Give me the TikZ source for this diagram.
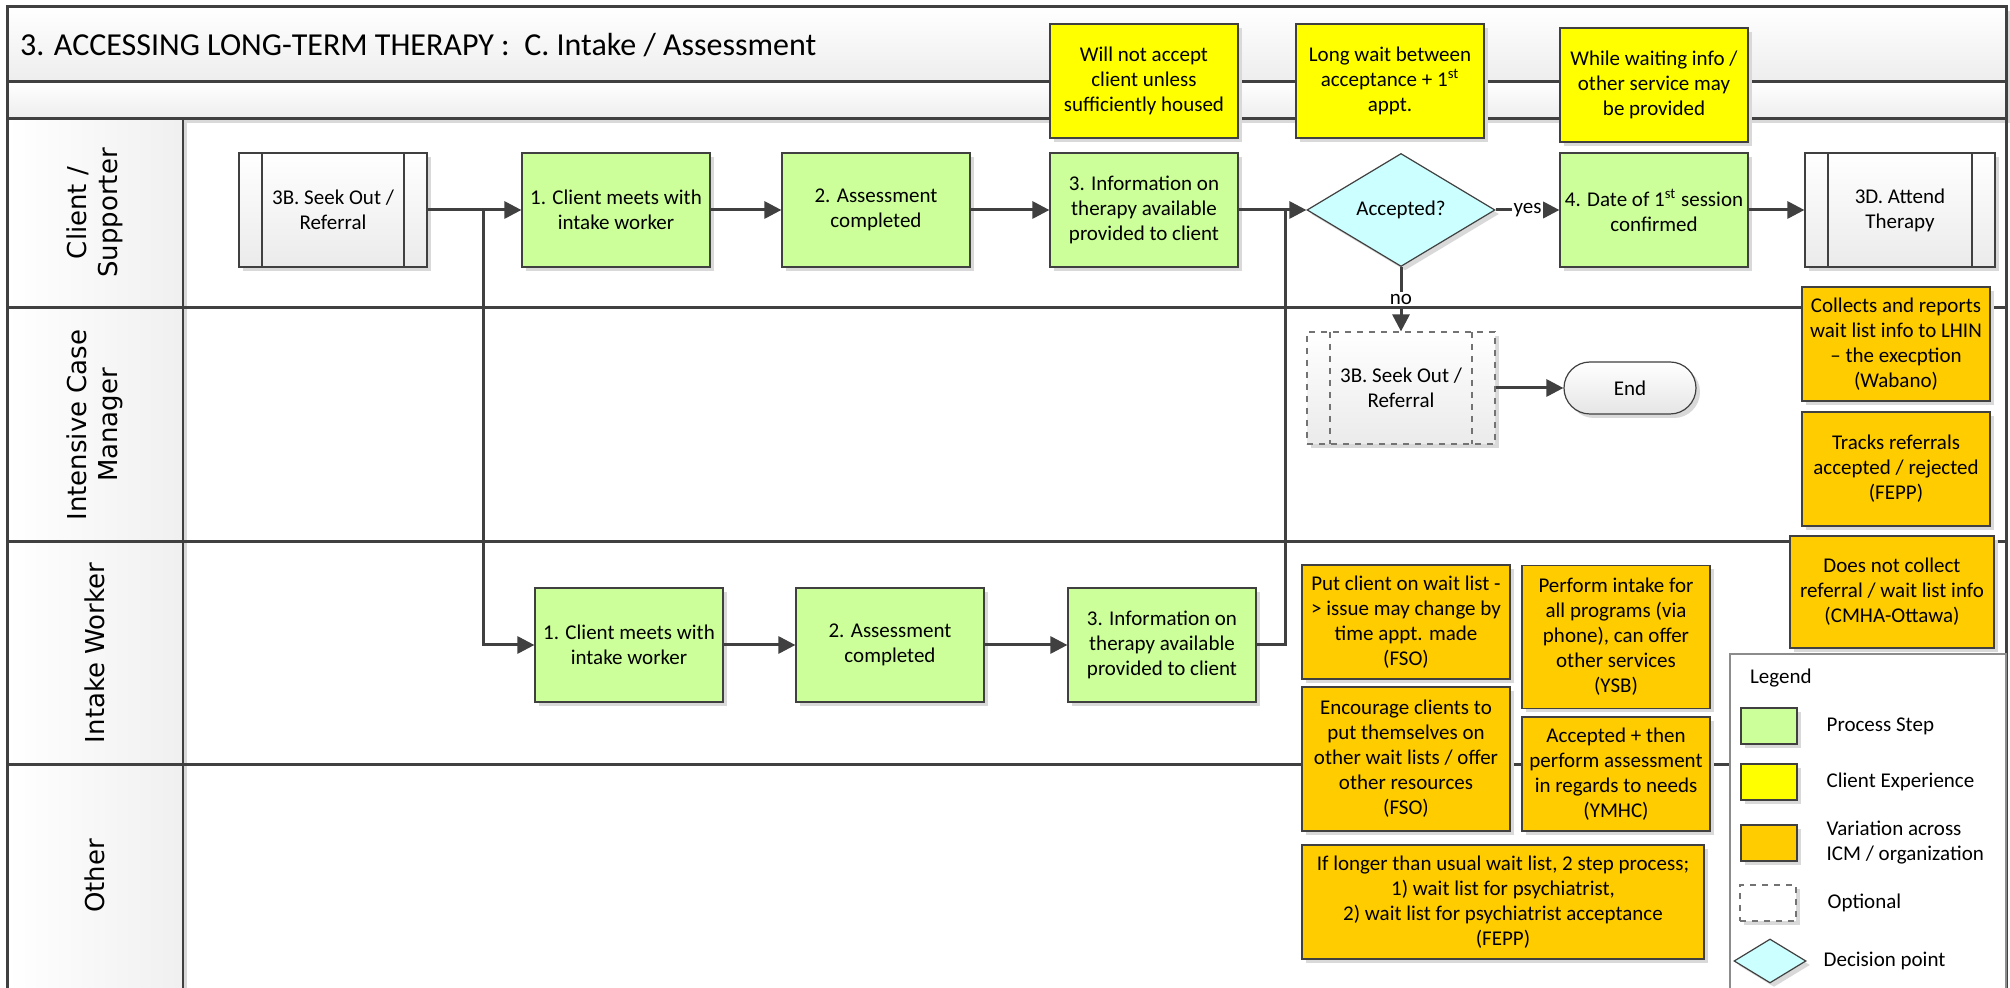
\documentclass[tikz,border=0pt]{standalone}
\usepackage{fontspec}
\setmainfont{Carlito}
\newfontfamily\lanefont{DejaVu Sans}
\usetikzlibrary{positioning,shapes.geometric,shadows,arrows.meta}
\definecolor{stepgreen}{HTML}{CCFF99}
\definecolor{expyellow}{HTML}{FFFF00}
\definecolor{varorange}{HTML}{FFCC00}
\definecolor{decblue}{HTML}{CCFFFF}
\definecolor{linegray}{HTML}{404040}

\begin{document}
\begin{tikzpicture}[x=0.5pt,y=-0.5pt,
  font=\fontsize{10.5}{12.5}\selectfont,
  shade/.style={drop shadow={shadow xshift=2pt,shadow yshift=-2pt,fill=black!15,opacity=1}},
  box/.style={rectangle,draw=linegray,line width=0.6pt,minimum width=94pt,minimum height=57pt,align=center,inner sep=2pt,shade},
  proc/.style={box,fill=stepgreen},
  exper/.style={box,fill=expyellow},
  vary/.style={box,fill=varorange},
  subproc/.style={box,top color=white,bottom color=black!8,
    path picture={\draw[line width=0.6pt,#1]
      ([xshift=11.5pt]path picture bounding box.north west) -- ([xshift=11.5pt]path picture bounding box.south west)
      ([xshift=-11.5pt]path picture bounding box.north east) -- ([xshift=-11.5pt]path picture bounding box.south east);}},
  subproc/.default={linegray},
  dec/.style={diamond,draw=linegray,line width=0.6pt,fill=decblue,minimum width=94pt,minimum height=56.5pt,inner sep=0pt,shade},
  term/.style={rectangle,rounded corners=13pt,draw=linegray,line width=0.6pt,top color=white,bottom color=black!10,minimum width=66pt,minimum height=26pt,shade},
  swatch/.style={rectangle,draw=linegray,line width=0.6pt,minimum width=28pt,minimum height=18pt,inner sep=0pt,shade},
  lanelbl/.style={rotate=90,align=center,font=\lanefont\fontsize{13}{15.5}\selectfont},
  lane/.style={line width=1.5pt,draw=linegray},
  conn/.style={line width=1.5pt,draw=linegray},
  flow/.style={conn,-{Triangle[length=8.5pt,width=8.5pt]}},
  lbl/.style={fill=white,inner sep=1pt}]

  \useasboundingbox (0,0) rectangle (2010,988);
  \clip (0,0) rectangle (2010,988);

  \fill[white] (0,0) rectangle (2010,988);
  \shade[top color=white,bottom color=black!7] (7,7) rectangle (2006,82);
  \shade[top color=white,bottom color=black!7] (7,82) rectangle (2006,119);
  \shade[left color=white,right color=black!6] (7,119) rectangle (183,1000);
  \draw[lane] (7,1000) -- (7,7) -- (2006,7) -- (2006,1000);
  \foreach \y in {82,119,308,542,765}
    \draw[lane] (7,\y) -- (2006,\y);
  \draw[line width=1pt,linegray] (183,119) -- (183,1000);

  \node[anchor=west,font=\fontsize{16}{19}\selectfont] (title) at (13,45) {3. ACCESSING LONG-TERM THERAPY :\ \ C. Intake / Assessment};
  \node[lanelbl] (l1) at (95,213) {Client /\\Supporter};
  \node[lanelbl] (l2) at (95,425) {Intensive Case\\Manager};
  \node[lanelbl] (l3) at (95,653) {Intake Worker};
  \node[lanelbl] (l4) at (95,876) {Other};

  \node[subproc] (seek) at (333,210) {3B. Seek Out /\\Referral};
  \node[proc] (c1) at (616,210) {1. Client meets with\\intake worker};
  \node[proc] (c2) at (876,210) {2. Assessment\\completed};
  \node[proc] (c3) at (1144,210) {3. Information on\\therapy available\\provided to client};
  \node[dec] (dec) at (1401,210) {Accepted?};
  \node[proc] (c4) at (1654,210) {4. Date of 1\textsuperscript{st} session\\confirmed};
  \node[subproc,minimum width=95pt] (att) at (1900,210) {3D. Attend\\Therapy};

  \node[exper] (y1) at (1144,81) {Will not accept\\client unless\\sufficiently housed};
  \node[exper] (y2) at (1390,81) {Long wait between\\acceptance + 1\textsuperscript{st}\\appt.};
  \node[exper] (y3) at (1654,85) {While waiting info /\\other service may\\be provided};

  \node[subproc={dashed,black!55},dashed,draw=black!55,minimum height=56pt] (seek2) at (1401,388) {3B. Seek Out /\\Referral};
  \node[term] (fin) at (1630,388) {End};
  \node[vary] (v1) at (1896,344) {Collects and reports\\wait list info to LHIN\\-- the execption\\(Wabano)};
  \node[vary] (v2) at (1896,469) {Tracks referrals\\accepted / rejected\\(FEPP)};

  \node[proc] (i1) at (629,645) {1. Client meets with\\intake worker};
  \node[proc] (i2) at (890,645) {2. Assessment\\completed};
  \node[proc] (i3) at (1162,645) {3. Information on\\therapy available\\provided to client};
  \node[vary,minimum width=102pt,minimum height=56pt] (v3) at (1892,592) {Does not collect\\referral / wait list info\\(CMHA-Ottawa)};
  \node[vary,minimum width=104pt] (v4) at (1406,622) {Put client on wait list -\\> issue may change by\\time appt. made\\(FSO)};
  \node[vary,minimum height=71.5pt] (v5) at (1616,637) {Perform intake for\\all programs (via\\phone), can offer\\other services\\(YSB)};
  \node[vary,minimum width=104pt,minimum height=72pt] (v6) at (1406,759) {Encourage clients to\\put themselves on\\other wait lists / offer\\other resources\\(FSO)};
  \node[vary] (v7) at (1616,774) {Accepted + then\\perform assessment\\in regards to needs\\(YMHC)};
  \node[vary,minimum width=201pt] (v8) at (1503,902) {If longer than usual wait list, 2 step process;\\1) wait list for psychiatrist,\\2) wait list for psychiatrist acceptance\\(FEPP)};

  \draw[line width=0.6pt,draw=black!45,fill=white] (1730,654) rectangle (2006,1000);
  \node[anchor=west] (lg) at (1743,678) {Legend};
  \node[swatch,fill=stepgreen] (s1) at (1769,726) {};
  \node[swatch,fill=expyellow] (s2) at (1769,782) {};
  \node[swatch,fill=varorange] (s3) at (1769,843) {};
  \node[swatch,dashed,draw=black!55,fill=white] (s4) at (1768,903) {};
  \node[dec,minimum width=36pt,minimum height=22pt] (s5) at (1770,961) {};
  \node[right=11pt of s1] (t1) {Process Step};
  \node[right=11pt of s2] (t2) {Client Experience};
  \node[right=11pt of s3,align=left] (t3) {Variation across\\ICM / organization};
  \node[right=12pt of s4] (t4) {Optional};
  \node[right=5pt of s5] (t5) {Decision point};

  \coordinate (j1) at (483,210);
  \coordinate (j2) at (1285,210);
  \draw[flow] (seek) -- (c1);
  \draw[flow] (c1) -- (c2);
  \draw[flow] (c2) -- (c3);
  \draw[flow] (c3) -- (dec);
  \draw[flow] (dec) -- node[lbl] {yes} (c4);
  \draw[flow] (c4) -- (att);
  \draw[flow] (dec) -- node[lbl] {no} (seek2);
  \draw[flow] (seek2) -- (fin);
  \draw[flow] (j1) |- (i1);
  \draw[flow] (i1) -- (i2);
  \draw[flow] (i2) -- (i3);
  \draw[conn] (i3) -| (j2);
\end{tikzpicture}
\end{document}
